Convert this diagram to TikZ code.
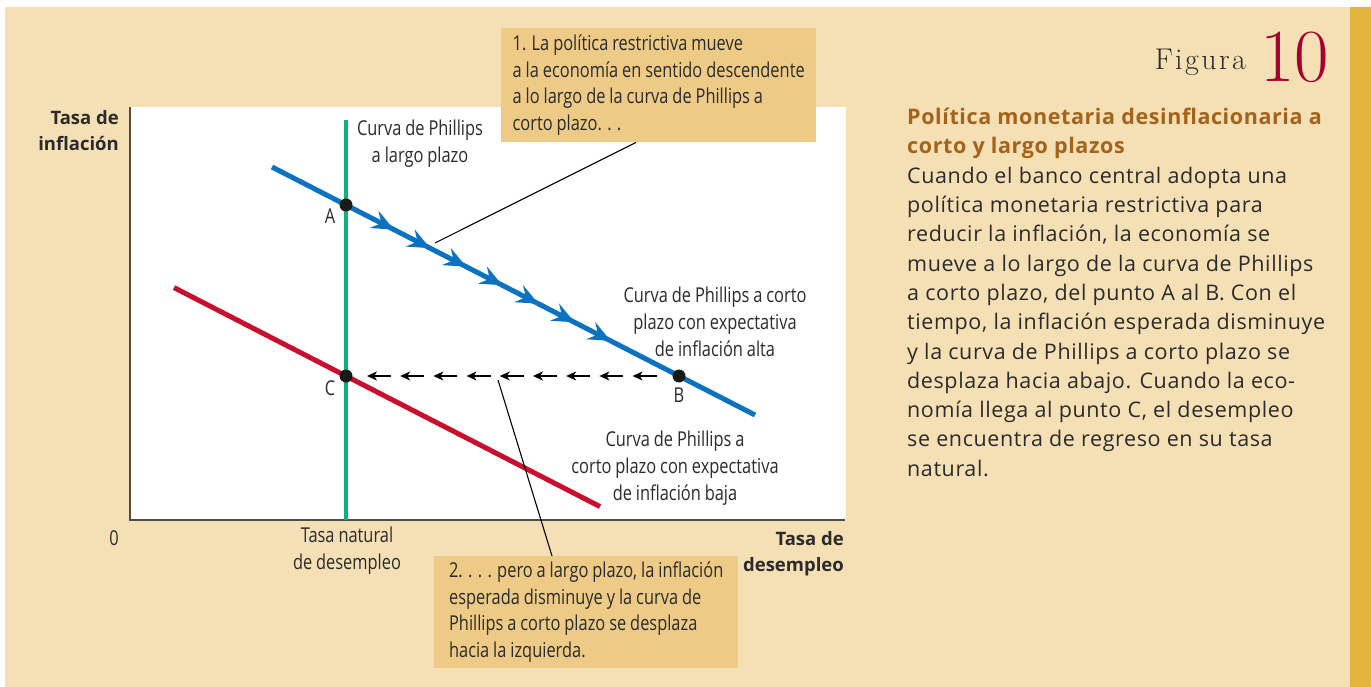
\documentclass[tikz,border=0pt]{standalone}
\usepackage{fontspec}
\setmainfont{Open Sans}
\newfontfamily\condfont[FakeStretch=0.8,WordSpace=0.92]{Open Sans}
\newfontfamily\bodyfont[LetterSpace=2.8]{Open Sans}
\newfontfamily\figfont[LetterSpace=8]{Latin Modern Roman}
\newfontfamily\numfont{Latin Modern Roman}
\usetikzlibrary{arrows.meta,decorations.markings}
\definecolor{bgbeige}{HTML}{F5DFB5}
\definecolor{callfill}{HTML}{EDCB87}
\definecolor{strip}{HTML}{E3B43B}
\definecolor{pcblue}{HTML}{0A72C0}
\definecolor{pcred}{HTML}{C8102E}
\definecolor{pcgreen}{HTML}{10B07A}
\definecolor{titlebrown}{HTML}{A5621A}
\definecolor{figred}{HTML}{A6002F}
\definecolor{txt}{HTML}{2B2B2B}
\definecolor{axisgray}{HTML}{4D4D4D}
\tikzset{
  lab/.style={font=\condfont\fontsize{20.5}{27}\selectfont, text=txt, inner sep=0pt, align=center},
  boldlab/.style={font=\bfseries\fontsize{18.5}{26.5}\selectfont, text=txt, inner sep=0pt, align=right},
  callbox/.style={fill=callfill, font=\condfont\fontsize{20.5}{26.6}\selectfont, text=txt, align=left, inner xsep=0pt, inner ysep=0pt, anchor=north west},
  dot/.style={circle, fill=black!90, inner sep=0pt, minimum size=13pt},
  curve/.style={line width=5pt},
  leader/.style={line width=1.1pt, black},
  dasharrow/.style={line width=1.1pt, black, -{Stealth[length=10pt,width=9pt,inset=3pt]}},
}
\begin{document}
\begin{tikzpicture}[x=1pt,y=-1pt]
\useasboundingbox (0,0) rectangle (1371,687);
\fill[white] (0,0) rectangle (1371,687);
\fill[bgbeige] (5,7) rectangle (1350,687);
\fill[strip] (1350,7) rectangle (1371,687);
% plot area
\fill[white] (130,107) rectangle (846,520);
\draw[axisgray, line width=2pt] (130,107) -- (130,520) -- (845,520);
% long run Phillips curve
\draw[pcgreen, line width=4.2pt] (346,120) -- (346,520);
% red low-expectation curve
\draw[pcred, curve] (174,287.6) -- (600,506.6);
% blue high-expectation curve with arrowheads
\draw[pcblue, curve, postaction={decorate, decoration={markings,
   mark=between positions 137pt and 421pt step 40.6pt with {\arrow[pcblue]{Stealth[length=22pt,width=19pt,inset=8pt]}}}}]
   (272,167) -- (755,415);
% dashed arrows from B to C
\foreach \k in {0,...,8}{
  \pgfmathsetmacro{\tip}{367+33.2*\k}
  \draw[dasharrow] (\tip+24,376) -- (\tip,376);
}
% points
\node[dot] (A) at (346,205) {};
\node[dot] (B) at (679,376) {};
\node[dot] (C) at (346,376) {};
\node[lab] (Al) at (330,216) {A};
\node[lab] (Bl) at (679,395) {B};
\node[lab] (Cl) at (330,388) {C};
% curve labels
\node[lab] (lrpc) at (420,143.5) {Curva de Phillips\\a largo plazo};
\node[lab] (srhigh) at (715,321.5) {Curva de Phillips a corto\\plazo con expectativa\\de inflación alta};
\node[lab] (srlow) at (675,468) {Curva de Phillips a\\corto plazo con expectativa\\de inflación baja};
% axis labels
\node[boldlab, anchor=north east] (ylab) at (119,110) {Tasa de\\inflación};
\node[boldlab, anchor=north east] (xlab) at (844,531) {Tasa de\\desempleo};
\node[lab] (zero) at (114,538) {0};
\node[lab] (nat) at (347,551) {Tasa natural\\de desempleo};
% callouts
\node[callbox, minimum width=315pt, minimum height=114pt] (c1) at (501,28)
  {1. La política restrictiva mueve\\a la economía en sentido descendente\\a lo largo de la curva de Phillips a\\corto plazo. . .};
\node[callbox, minimum width=304pt, minimum height=112pt] (c2) at (434,556)
  {2. . . . pero a largo plazo, la inflación\\esperada disminuye y la curva de\\Phillips a corto plazo se desplaza\\hacia la izquierda.};
\coordinate (p1) at (435,243);
\coordinate (p2) at (498,380);
\draw[leader] ([xshift=135pt]c1.south west) -- (p1);
\draw[leader] ([xshift=118pt]c2.north west) -- (p2);
% figure label
\node[inner sep=0pt, anchor=base east, font=\figfont\fontsize{30}{30}\selectfont, text=txt] (fig) at (1246,70) {Figura};
\node[inner sep=0pt, anchor=base west, font=\numfont\fontsize{75}{75}\selectfont, text=figred] (num) at (1260,82) {10};
% right text
\node[inner sep=0pt, anchor=north west, align=left, text=txt, font=\bodyfont\fontsize{21.5}{29.3}\selectfont] (desc) at (907,108)
 {{\bfseries\color{titlebrown}Política monetaria desinflacionaria a}\\
  {\bfseries\color{titlebrown}corto y largo plazos}\\
  Cuando el banco central adopta una\\
  política monetaria restrictiva para\\
  reducir la inflación, la economía se\\
  mueve a lo largo de la curva de Phillips\\
  a corto plazo, del punto A al B. Con el\\
  tiempo, la inflación esperada disminuye\\
  y la curva de Phillips a corto plazo se\\
  desplaza hacia abajo. Cuando la eco-\\
  nomía llega al punto C, el desempleo\\
  se encuentra de regreso en su tasa\\
  natural.};
\end{tikzpicture}
\end{document}
